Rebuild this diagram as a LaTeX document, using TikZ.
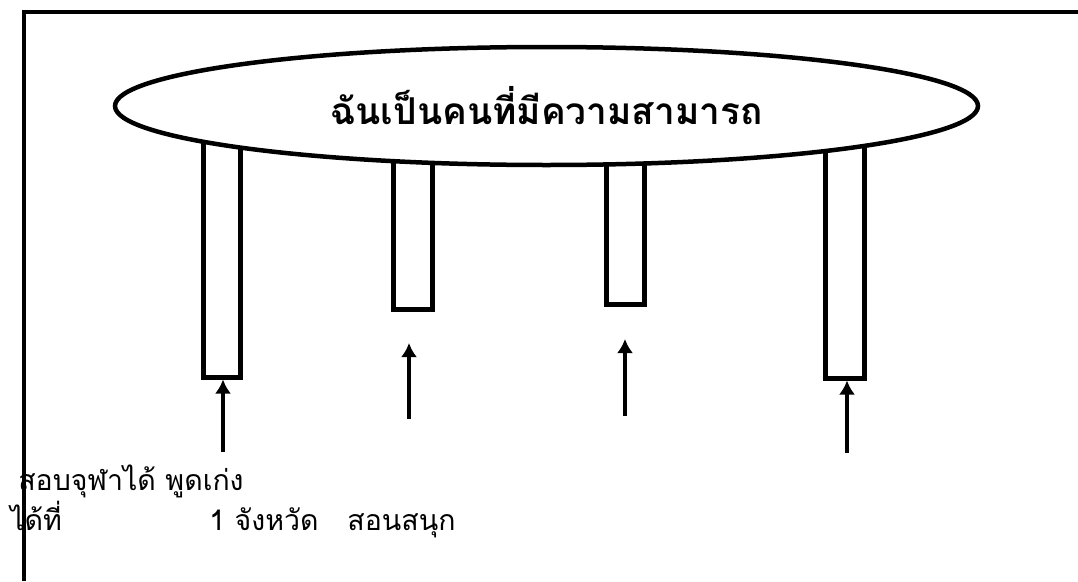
\documentclass[tikz,border=0pt]{standalone}
\usepackage{fontspec}
\usepackage{tikz}
\usetikzlibrary{arrows.meta}
\usetikzlibrary{shapes.geometric}
\usetikzlibrary{positioning}
\newfontfamily\thaifont[Script=Thai]{Loma}

\begin{document}
\begin{tikzpicture}[x=1pt,y=-1pt,->,>={Latex[length=14pt,width=16pt]},line width=4.5pt]
 				 \tikzstyle{pillar}=[draw, rectangle, line width=5pt, fill=white, inner sep=0pt, anchor=north]
 				 \tikzstyle{label}=[inner sep=0pt, anchor=base west, font=\thaifont\fontsize{28.5}{32}\selectfont]
 					 \useasboundingbox (0,0) rectangle (1078,581);
 					 % pillars
 					 \node[pillar, minimum width=37pt, minimum height=244.5pt] (P1) at (222,130) {};
 					 \node[pillar, minimum width=39pt, minimum height=156.5pt] (P2) at (413,150) {};
 					 \node[pillar, minimum width=38pt, minimum height=151.5pt] (P3) at (625.5,150) {};
 					 \node[pillar, minimum width=39pt, minimum height=245.5pt] (P4) at (845,130) {};
 					 % roof
 					 \node[draw, ellipse, fill=white, inner sep=0pt, minimum width=863pt, minimum height=118pt,
 					       font=\thaifont\bfseries\fontsize{37}{44}\selectfont] (roof) at (546.5,106) {ฉันเป็นคนที่มีความสามารถ};
 					 % frame
 					 \draw[-, line width=3.5pt] (24,581) -- (24,12) -- (1078,12);
 					 % free ends
 					 \coordinate (a1) at (223,452);
 					 \coordinate (a2) at (409,419);
 					 \coordinate (b2) at (409,343);
 					 \coordinate (a3) at (625,416);
 					 \coordinate (b3) at (625,339);
 					 \coordinate (a4) at (847,453);
 					 \path
 					 			(a1) edge (a1 |- P1.south)
 					 			(a2) edge (b2)
 					 			(a3) edge (b3)
 					 			(a4) edge (a4 |- P4.south);
 					 % texts
 					 \node[label] (t1) at (16,490) {สอบจุฬาได้ พูดเก่ง};
 					 \node[label] (t2) at (8,530) {ได้ที่};
 					 \node[label] (t3) at (207,530) {1 จังหวัด\ \ \ สอนสนุก};
				\end{tikzpicture}
\end{document}
